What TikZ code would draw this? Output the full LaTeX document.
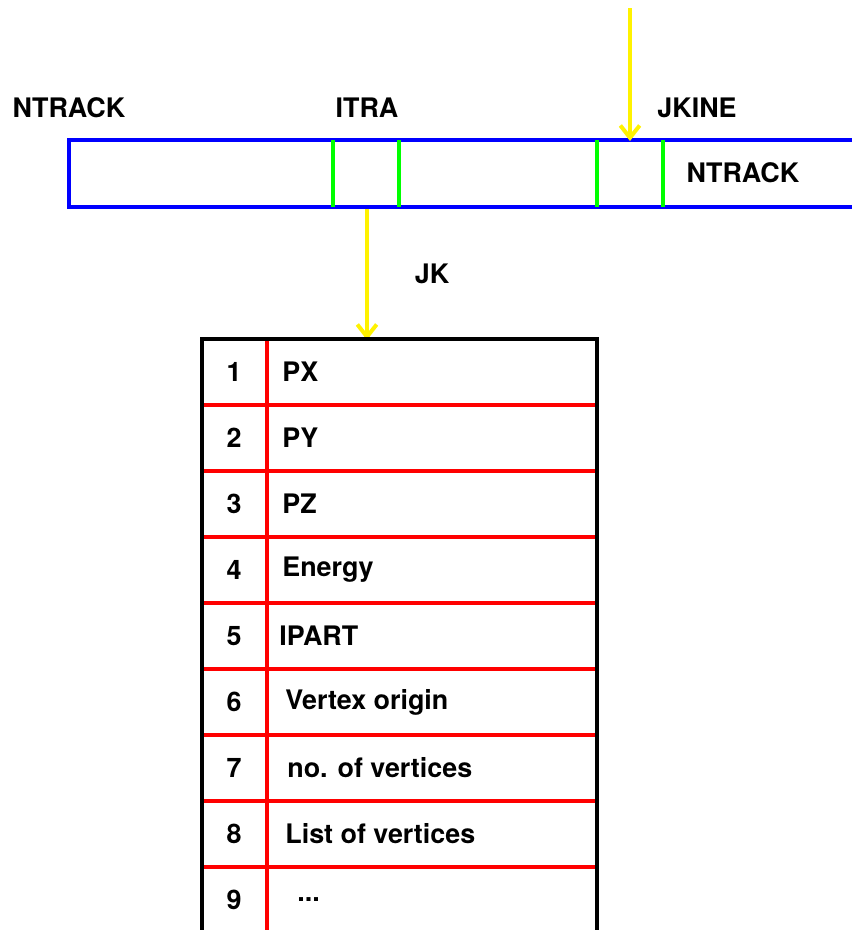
\documentclass[tikz,border=0pt]{standalone}
\usepackage{fontspec}
\setmainfont{TeX Gyre Heros}
\usetikzlibrary{arrows.meta,positioning}

\tikzset{
  lbl/.style={font=\fontsize{15.3}{18}\selectfont\bfseries},
  ptr/.style={yellow,line width=0.08cm,-{Straight Barb[length=7pt,width=11pt]}},
  bankline/.style={blue,line width=0.085cm},
  sepline/.style={green,line width=0.08cm},
  rowline/.style={red,line width=0.065cm}
}

\begin{document}
\begin{tikzpicture}[x=0.02cm,y=-0.02cm]
\useasboundingbox (0,0) rectangle (852,930);

% Bank of tracks
\draw[bankline] (852,140) -- (69,140) -- (69,207) -- (852,207);
\foreach \x in {333,399,597,663}
  \draw[sepline] (\x,140) -- (\x,207);

\node[lbl] (ntrack) at (69,108) {NTRACK};
\node[lbl] (itra) at (367,108) {ITRA};
\node[lbl] (jkine) at (697,108) {JKINE};
\node[lbl] (ntrackin) at (743,173) {NTRACK};

% Pointers
\coordinate (jkinestart) at (630,8);
\coordinate (jkineend) at (630,141);
\coordinate (itrastart) at (367,209);
\coordinate (tabletop) at (367,340);
\draw[ptr] (jkinestart) -- (jkineend);
\draw[ptr] (itrastart) -- (tabletop);
\node[lbl] (jk) at (432,274) {JK};

% Track table
\foreach \i in {1,2,3,4,5,6,7,8}
  \draw[rowline] (202,{339+66*\i}) -- (597,{339+66*\i});
\draw[rowline] (267,339) -- (267,930);
\draw[line width=0.075cm] (202,935) -- (202,339) -- (597,339) -- (597,935);

\foreach \i/\xx/\t in {1/282/PX,2/282/PY,3/282/PZ,4/282/Energy,5/279/IPART,
    6/285/Vertex origin,7/287/no. of vertices,8/285/List of vertices}
{
  \node[lbl] (num\i) at (234,{306+66*\i}) {\i};
  \node[lbl,anchor=west,inner sep=0pt] (row\i) at (\xx,{306+66*\i}) {\t};
}
\node[lbl] (num9) at (234,900) {9};
\node[lbl,anchor=west,inner sep=0pt] (row9) at (297,900) {...};
\end{tikzpicture}
\end{document}
